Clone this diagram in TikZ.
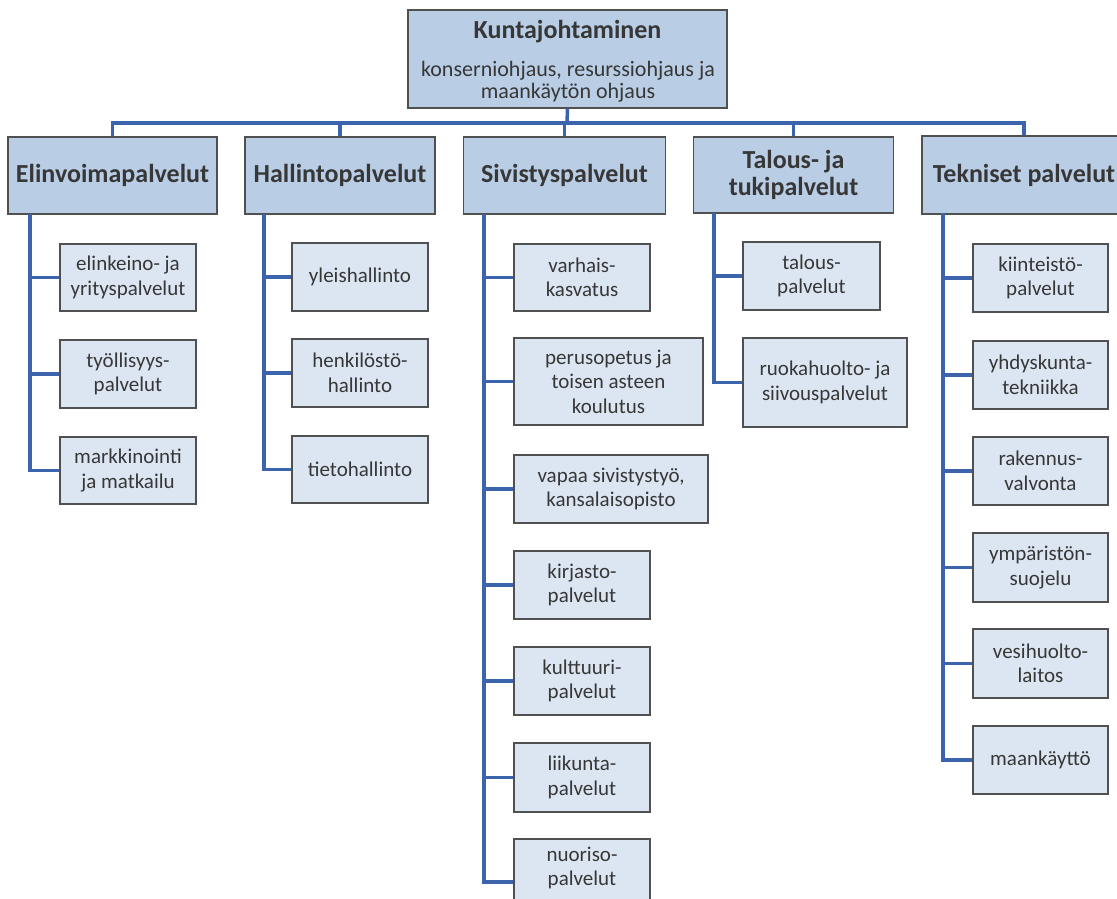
\documentclass[tikz,border=0pt]{standalone}
\usepackage{fontspec}
\setmainfont{Carlito}
\definecolor{hdrfill}{RGB}{185,205,229}
\definecolor{subfill}{RGB}{220,230,242}
\definecolor{boxline}{RGB}{80,80,80}
\definecolor{txt}{RGB}{55,55,55}
\definecolor{conncol}{RGB}{59,100,173}
\tikzset{
  base/.style={draw=boxline, line width=1.4pt, text=txt, align=center, inner sep=0pt},
  topbox/.style={base, fill=hdrfill},
  toptext/.style={text=txt, inner sep=0pt, anchor=base},
  hdr/.style={base, fill=hdrfill, minimum height=77pt, font=\fontsize{26}{27}\selectfont\bfseries},
  sub/.style={base, fill=subfill, font=\fontsize{21}{24.5}\selectfont},
  conn/.style={draw=conncol, line width=3.5pt, line join=miter}
}
\begin{document}
\begin{tikzpicture}[x=1pt,y=-1pt]
\useasboundingbox (0,0) rectangle (1117,898);
\clip (0,0) rectangle (1117,898);
\fill[white] (0,0) rectangle (1117,898);

\coordinate (bus) at (567,123);
\coordinate (e0) at (30,214);
\coordinate (ha0) at (264,214);
\coordinate (s0) at (484,214);
\coordinate (t0) at (714,213);
\coordinate (k0) at (943,213);

% top
\node[topbox, minimum width=319pt, minimum height=98pt] (top) at (567.5,59) {};
\node[toptext, font=\fontsize{26}{27}\selectfont\bfseries] (toptitle) at (567.5,38) {Kuntajohtaminen};
\node[toptext, font=\fontsize{22}{22}\selectfont] (topsub1) at (568,76) {konserniohjaus, resurssiohjaus ja};
\node[toptext, font=\fontsize{22}{22}\selectfont] (topsub2) at (568,98) {maankäytön ohjaus};

% level 2
\node[hdr, minimum width=209pt] (h1) at (112.5,175.5) {Elinvoimapalvelut};
\node[hdr, minimum width=190pt] (h2) at (340,175.5) {Hallintopalvelut};
\node[hdr, minimum width=202pt] (h3) at (564.5,175.5) {Sivistyspalvelut};
\node[hdr, minimum width=200pt, minimum height=76pt] (h4) at (793.5,175) {Talous- ja\\tukipalvelut};
\node[hdr, minimum width=204pt, minimum height=78pt] (h5) at (1024,175) {Tekniset palvelut};

% level 3: Elinvoima
\node[sub, minimum width=136pt, minimum height=67pt] (e1) at (128,277.5) {elinkeino- ja\\yrityspalvelut};
\node[sub, minimum width=136pt, minimum height=68pt] (e2) at (128,374) {työllisyys-\\palvelut};
\node[sub, minimum width=136pt, minimum height=67pt] (e3) at (128,470.5) {markkinointi\\ja matkailu};
% Hallinto
\node[sub, minimum width=136pt, minimum height=68pt] (ha1) at (360,277) {yleishallinto};
\node[sub, minimum width=136pt, minimum height=68pt] (ha2) at (360,373) {henkilöstö-\\hallinto};
\node[sub, minimum width=136pt, minimum height=67pt] (ha3) at (360,469.5) {tietohallinto};
% Sivistys
\node[sub, minimum width=136pt, minimum height=67pt] (s1) at (582,277.5) {varhais-\\kasvatus};
\node[sub, minimum width=189pt, minimum height=87pt] (s2) at (608.5,381.5) {perusopetus ja\\toisen asteen\\koulutus};
\node[sub, minimum width=194pt, minimum height=68pt] (s3) at (611,489) {vapaa sivistystyö,\\kansalaisopisto};
\node[sub, minimum width=136pt, minimum height=68pt] (s4) at (582,585) {kirjasto-\\palvelut};
\node[sub, minimum width=136pt, minimum height=68pt] (s5) at (582,681) {kulttuuri-\\palvelut};
\node[sub, minimum width=136pt, minimum height=69pt] (s6) at (582,777.5) {liikunta-\\palvelut};
\node[sub, minimum width=136pt, minimum height=86pt] (s7) at (582,882) {nuoriso-\\palvelut\\\strut};
% Talous
\node[sub, minimum width=137pt, minimum height=68pt] (t1) at (811.5,276) {talous-\\palvelut};
\node[sub, minimum width=164pt, minimum height=89pt] (t2) at (825,382.5) {ruokahuolto- ja\\siivouspalvelut};
% Tekniset
\node[sub, minimum width=135pt, minimum height=68pt] (k1) at (1040.5,278) {kiinteistö-\\palvelut};
\node[sub, minimum width=135pt, minimum height=68pt] (k2) at (1040.5,375) {yhdyskunta-\\tekniikka};
\node[sub, minimum width=135pt, minimum height=68pt] (k3) at (1040.5,471) {rakennus-\\valvonta};
\node[sub, minimum width=135pt, minimum height=69pt] (k4) at (1040.5,567.5) {ympäristön-\\suojelu};
\node[sub, minimum width=135pt, minimum height=69pt] (k5) at (1040.5,663.5) {vesihuolto-\\laitos};
\node[sub, minimum width=135pt, minimum height=68pt] (k6) at (1040.5,760) {maankäyttö};

% connectors
\draw[conn] (top.south) -- (bus);
\draw[conn] (bus) -| (h1.north);
\draw[conn] (bus) -| (h2.north);
\draw[conn] (bus) -- (bus -| h3.north) -- (h3.north);
\draw[conn] (bus) -| (h4.north);
\draw[conn] (bus) -| (h5.north);

\foreach \c in {e1,e2,e3} \draw[conn] (e0) |- (\c.west);
\foreach \c in {ha1,ha2,ha3} \draw[conn] (ha0) |- (\c.west);
\foreach \c in {s1,s2,s3,s4,s5,s6,s7} \draw[conn] (s0) |- (\c.west);
\foreach \c in {t1,t2} \draw[conn] (t0) |- (\c.west);
\foreach \c in {k1,k2,k3,k4,k5,k6} \draw[conn] (k0) |- (\c.west);
\end{tikzpicture}
\end{document}
